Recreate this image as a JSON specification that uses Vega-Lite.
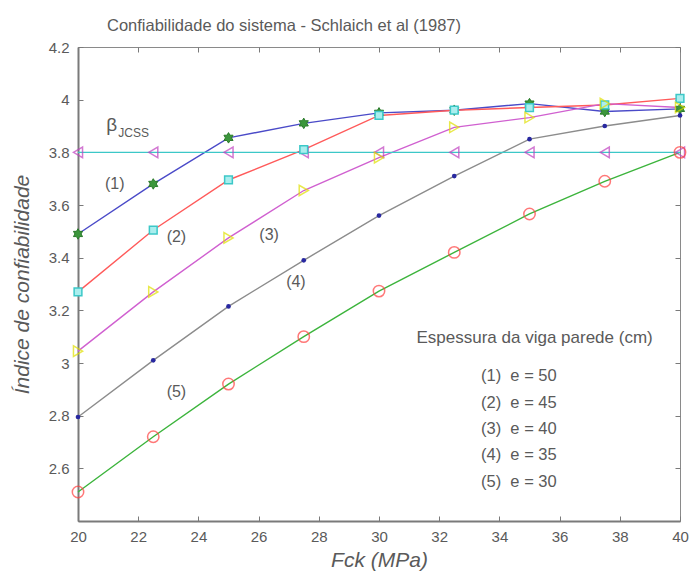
{
  "$schema": "https://vega.github.io/schema/vega-lite/v6.json",
  "width": 602,
  "height": 474,
  "autosize": "none",
  "padding": {"left": 78, "top": 47, "right": 9, "bottom": 52},
  "background": "white",
  "config": {
    "font": "Liberation Sans",
    "view": {"stroke": "#8a8a8a", "strokeWidth": 1},
    "axis": {
      "domainColor": "#7a7a7a",
      "domainWidth": 2,
      "tickColor": "#7a7a7a",
      "tickSize": -5,
      "tickWidth": 1,
      "labelColor": "#5a5a5a",
      "labelFontSize": 15,
      "labelFont": "Liberation Sans",
      "labelFlush": false,
      "labelOverlap": false,
      "titleColor": "#5a5a5a",
      "titleFont": "Liberation Sans",
      "titleFontWeight": "normal",
      "titleFontStyle": "italic",
      "grid": false
    }
  },
  "title": {
    "text": "Confiabilidade do sistema - Schlaich et al (1987)",
    "anchor": "middle",
    "dx": -95,
    "fontSize": 16.5,
    "fontWeight": "normal",
    "color": "#5a5a5a",
    "font": "Liberation Sans",
    "offset": 6
  },
  "datasets": {
    "series": [
      {"s": "1", "fck": 20, "value": 3.49}, {"s": "1", "fck": 22.5, "value": 3.68}, {"s": "1", "fck": 25, "value": 3.855}, {"s": "1", "fck": 27.5, "value": 3.91}, {"s": "1", "fck": 30, "value": 3.95}, {"s": "1", "fck": 32.5, "value": 3.96}, {"s": "1", "fck": 35, "value": 3.985}, {"s": "1", "fck": 37.5, "value": 3.955}, {"s": "1", "fck": 40, "value": 3.965},
      {"s": "2", "fck": 20, "value": 3.27}, {"s": "2", "fck": 22.5, "value": 3.505}, {"s": "2", "fck": 25, "value": 3.695}, {"s": "2", "fck": 27.5, "value": 3.81}, {"s": "2", "fck": 30, "value": 3.94}, {"s": "2", "fck": 32.5, "value": 3.96}, {"s": "2", "fck": 35, "value": 3.97}, {"s": "2", "fck": 37.5, "value": 3.98}, {"s": "2", "fck": 40, "value": 4.005},
      {"s": "3", "fck": 20, "value": 3.045}, {"s": "3", "fck": 22.5, "value": 3.27}, {"s": "3", "fck": 25, "value": 3.475}, {"s": "3", "fck": 27.5, "value": 3.655}, {"s": "3", "fck": 30, "value": 3.78}, {"s": "3", "fck": 32.5, "value": 3.895}, {"s": "3", "fck": 35, "value": 3.932}, {"s": "3", "fck": 37.5, "value": 3.985}, {"s": "3", "fck": 40, "value": 3.97},
      {"s": "4", "fck": 20, "value": 2.795}, {"s": "4", "fck": 22.5, "value": 3.01}, {"s": "4", "fck": 25, "value": 3.215}, {"s": "4", "fck": 27.5, "value": 3.39}, {"s": "4", "fck": 30, "value": 3.56}, {"s": "4", "fck": 32.5, "value": 3.71}, {"s": "4", "fck": 35, "value": 3.85}, {"s": "4", "fck": 37.5, "value": 3.9}, {"s": "4", "fck": 40, "value": 3.94},
      {"s": "5", "fck": 20, "value": 2.51}, {"s": "5", "fck": 22.5, "value": 2.72}, {"s": "5", "fck": 25, "value": 2.92}, {"s": "5", "fck": 27.5, "value": 3.1}, {"s": "5", "fck": 30, "value": 3.273}, {"s": "5", "fck": 32.5, "value": 3.42}, {"s": "5", "fck": 35, "value": 3.566}, {"s": "5", "fck": 37.5, "value": 3.69}, {"s": "5", "fck": 40, "value": 3.8},
      {"s": "J", "fck": 20, "value": 3.8}, {"s": "J", "fck": 22.5, "value": 3.8}, {"s": "J", "fck": 25, "value": 3.8}, {"s": "J", "fck": 27.5, "value": 3.8}, {"s": "J", "fck": 30, "value": 3.8}, {"s": "J", "fck": 32.5, "value": 3.8}, {"s": "J", "fck": 35, "value": 3.8}, {"s": "J", "fck": 37.5, "value": 3.8}, {"s": "J", "fck": 40, "value": 3.8}
    ],
    "curveLabels": [
      {"t": "(1)", "fck": 21.22, "value": 3.68},
      {"t": "(2)", "fck": 23.27, "value": 3.478},
      {"t": "(3)", "fck": 26.35, "value": 3.486},
      {"t": "(4)", "fck": 27.24, "value": 3.307},
      {"t": "(5)", "fck": 23.27, "value": 2.89}
    ],
    "legendHead": [
      {"t": "Espessura da viga parede (cm)", "fck": 35.17, "value": 3.095}
    ],
    "legendRows": [
      {"t": "(1)\u00a0\u00a0e = 50", "fck": 33.39, "value": 2.95},
      {"t": "(2)\u00a0\u00a0e = 45", "fck": 33.39, "value": 2.85},
      {"t": "(3)\u00a0\u00a0e = 40", "fck": 33.39, "value": 2.75},
      {"t": "(4)\u00a0\u00a0e = 35", "fck": 33.39, "value": 2.65},
      {"t": "(5)\u00a0\u00a0e = 30", "fck": 33.39, "value": 2.55}
    ],
    "beta": [{"t": "β", "fck": 21.12, "value": 3.904}],
    "betaSub": [{"t": "JCSS", "fck": 21.85, "value": 3.874}]
  },
  "resolve": {"axis": {"x": "independent", "y": "independent"}},
  "layer": [
    {
      "encoding": {
        "x": {"field": "fck", "type": "quantitative", "scale": {"domain": [20, 40], "nice": false, "zero": false},
              "axis": {"values": [20, 22, 24, 26, 28, 30, 32, 34, 36, 38, 40], "title": "Fck (MPa)", "titleFontSize": 21, "labelPadding": 13, "titlePadding": 5}},
        "y": {"field": "value", "type": "quantitative", "scale": {"domain": [2.4, 4.2], "nice": false, "zero": false},
              "axis": {"values": [2.6, 2.8, 3.0, 3.2, 3.4, 3.6, 3.8, 4.0, 4.2], "format": "~g", "title": "Índice de confiabilidade", "titleFontSize": 21, "labelPadding": 14, "titlePadding": 16}}
      },
      "layer": [
        {
          "data": {"name": "series"},
          "mark": {"type": "line", "strokeWidth": 1.4},
          "encoding": {
            "detail": {"field": "s"},
            "color": {"field": "s", "type": "nominal", "legend": null,
                      "scale": {"domain": ["1", "2", "3", "4", "5", "J"], "range": ["#4a4ac8", "#ff5a5a", "#d060d0", "#8c8c8c", "#3cb43c", "#3cc8c8"]}}
          }
        },
        {
          "data": {"name": "series"},
          "transform": [{"filter": "datum.s === 'J'"}],
          "mark": {"type": "point", "shape": "triangle-left", "filled": false, "stroke": "#c040c0", "strokeWidth": 1.5, "size": 110}
        },
        {
          "data": {"name": "series"},
          "transform": [{"filter": "datum.s === '1'"}],
          "mark": {"type": "point", "shape": "M0,-1L0.29,-0.5L0.87,-0.5L0.58,0L0.87,0.5L0.29,0.5L0,1L-0.29,0.5L-0.87,0.5L-0.58,0L-0.87,-0.5L-0.29,-0.5Z", "filled": true, "fill": "#3c963c", "stroke": "#2a7a2a", "strokeWidth": 1, "opacity": 1, "size": 110}
        },
        {
          "data": {"name": "series"},
          "transform": [{"filter": "datum.s === '2'"}],
          "mark": {"type": "point", "shape": "square", "filled": true, "fill": "#aaeeee", "stroke": "#3cc8c8", "strokeWidth": 1.5, "opacity": 1, "size": 60}
        },
        {
          "data": {"name": "series"},
          "transform": [{"filter": "datum.s === '3'"}],
          "mark": {"type": "point", "shape": "triangle-right", "filled": false, "stroke": "#e0e000", "strokeWidth": 1.5, "size": 110}
        },
        {
          "data": {"name": "series"},
          "transform": [{"filter": "datum.s === '4'"}],
          "mark": {"type": "point", "shape": "circle", "filled": true, "fill": "#2828a0", "opacity": 1, "size": 22}
        },
        {
          "data": {"name": "series"},
          "transform": [{"filter": "datum.s === '5'"}],
          "mark": {"type": "point", "shape": "circle", "filled": false, "stroke": "#ff4040", "strokeWidth": 1.5, "size": 130}
        },
        {
          "data": {"name": "curveLabels"},
          "mark": {"type": "text", "font": "Liberation Sans", "fontSize": 16, "color": "#5a5a5a"},
          "encoding": {"text": {"field": "t"}}
        },
        {
          "data": {"name": "legendHead"},
          "mark": {"type": "text", "font": "Liberation Sans", "fontSize": 17, "color": "#5a5a5a"},
          "encoding": {"text": {"field": "t"}}
        },
        {
          "data": {"name": "legendRows"},
          "mark": {"type": "text", "align": "left", "font": "Liberation Sans", "fontSize": 16.5, "color": "#5a5a5a"},
          "encoding": {"text": {"field": "t"}}
        },
        {
          "data": {"name": "beta"},
          "mark": {"type": "text", "font": "Liberation Sans", "fontSize": 19, "color": "#5a5a5a"},
          "encoding": {"text": {"field": "t"}}
        },
        {
          "data": {"name": "betaSub"},
          "mark": {"type": "text", "font": "Liberation Sans", "fontSize": 12, "color": "#5a5a5a"},
          "encoding": {"text": {"field": "t"}}
        }
      ]
    },
    {
      "data": {"name": "series"},
      "mark": {"type": "point", "opacity": 0},
      "encoding": {
        "x": {"field": "fck", "type": "quantitative", "scale": {"domain": [20, 40], "nice": false, "zero": false},
              "axis": {"orient": "top", "values": [20, 22, 24, 26, 28, 30, 32, 34, 36, 38, 40], "labels": false, "title": null, "domain": false}},
        "y": {"field": "value", "type": "quantitative", "scale": {"domain": [2.4, 4.2], "nice": false, "zero": false},
              "axis": {"orient": "right", "values": [2.6, 2.8, 3.0, 3.2, 3.4, 3.6, 3.8, 4.0, 4.2], "labels": false, "title": null, "domain": false}}
      }
    }
  ]
}
